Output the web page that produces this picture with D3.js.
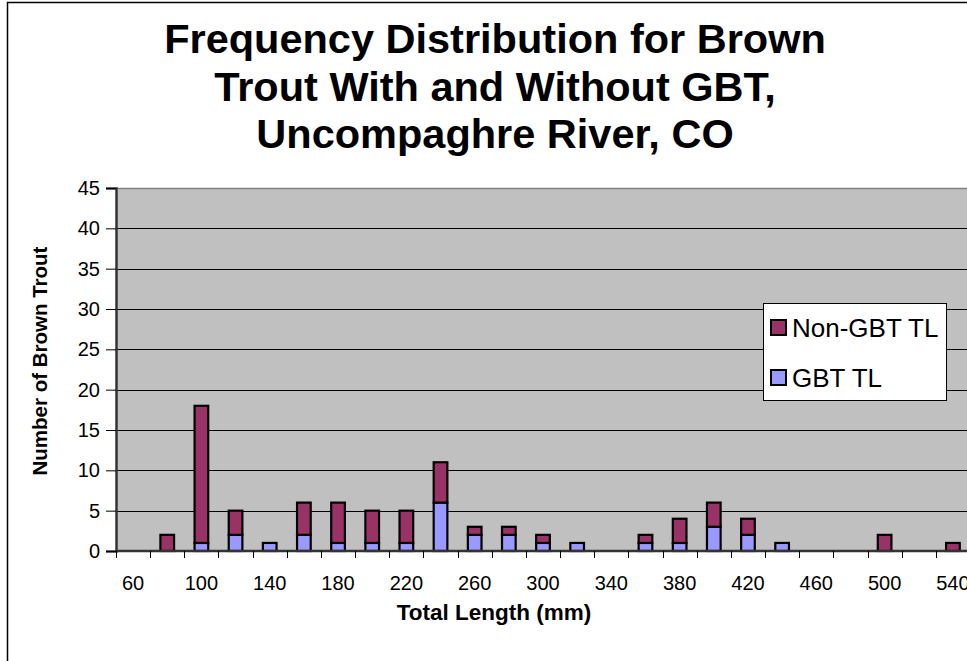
<!DOCTYPE html>
<html>
<head>
<meta charset="utf-8">
<script src="https://cdn.jsdelivr.net/npm/d3@7"></script>
<style>
  html, body { margin: 0; padding: 0; background: #fff; }
  svg { display: block; font-family: "Liberation Sans", Arial, sans-serif; }
</style>
</head>
<body>
<svg id="chart" width="967" height="661"></svg>
<script>
// ---- Data ----
const categories = [60, 80, 100, 120, 140, 160, 180, 200, 220, 240, 260, 280, 300,
                    320, 340, 360, 380, 400, 420, 440, 460, 480, 500, 520, 540];
const gbtTL    = [0, 0, 1, 2, 1, 2, 1, 1, 1, 6, 2, 2, 1, 1, 0, 1, 1, 3, 2, 1, 0, 0, 0, 0, 0];
const nonGbtTL = [0, 2, 17, 3, 0, 4, 5, 4, 4, 5, 1, 1, 1, 0, 0, 1, 3, 3, 2, 0, 0, 0, 2, 0, 1];
const seriesNames = ["GBT TL", "Non-GBT TL"];
const yTicks = [0, 5, 10, 15, 20, 25, 30, 35, 40, 45];
const xTickLabels = [60, 100, 140, 180, 220, 260, 300, 340, 380, 420, 460, 500, 540];
const titleLines = ["Frequency Distribution for Brown", "Trout With and Without GBT,", "Uncompaghre River, CO"];

const colors = { "GBT TL": "#9999FF", "Non-GBT TL": "#993366" };

const svg = d3.select("#chart");

// outer chart border
svg.append("path").attr("d", "M7.5,661 L7.5,2.5 L967,2.5")
  .attr("fill", "none").attr("stroke", "#000").attr("stroke-width", 1.5);

// layout
const plotLeft = 116, plotRight = 970, plotTop = 188, plotBottom = 551;

const x = d3.scaleBand().domain(categories).range([plotLeft, plotRight]).padding(0);
const y = d3.scaleLinear().domain([0, 45]).range([plotBottom, plotTop]);

// title
const title = svg.append("text").attr("text-anchor", "middle")
  .attr("font-size", 41.5).attr("font-weight", "bold").attr("fill", "#000");
titleLines.forEach((t, i) => {
  title.append("tspan").attr("x", 495).attr("y", 53 + i * 47.5).text(t);
});

// plot background
svg.append("rect").attr("x", plotLeft).attr("y", plotTop)
  .attr("width", plotRight - plotLeft).attr("height", plotBottom - plotTop)
  .attr("fill", "#C0C0C0");

// gridlines
svg.append("g").selectAll("line").data(yTicks.filter(d => d > 0 && d < 45)).join("line")
  .attr("x1", plotLeft).attr("x2", plotRight)
  .attr("y1", d => Math.round(y(d)) + 0.5).attr("y2", d => Math.round(y(d)) + 0.5)
  .attr("stroke", "#000").attr("stroke-width", 1.2);
svg.append("line").attr("x1", plotLeft).attr("x2", plotRight)
  .attr("y1", plotTop + 0.5).attr("y2", plotTop + 0.5)
  .attr("stroke", "#808080").attr("stroke-width", 1.5);

// stacked bars
const rows = categories.map((c, i) => ({ cat: c, "GBT TL": gbtTL[i], "Non-GBT TL": nonGbtTL[i] }));
const stacked = d3.stack().keys(seriesNames)(rows);
const bw = x.bandwidth() * 0.4;
const off = (x.bandwidth() - bw) / 2;

svg.append("g").selectAll("g").data(stacked).join("g")
  .attr("fill", d => colors[d.key])
  .selectAll("rect").data(d => d.filter(s => s[1] - s[0] > 0)).join("rect")
  .attr("x", d => x(d.data.cat) + off)
  .attr("y", d => y(d[1]))
  .attr("width", bw)
  .attr("height", d => y(d[0]) - y(d[1]))
  .attr("stroke", "#000").attr("stroke-width", 2.2);

// y axis
const yAxis = d3.axisLeft(y).tickValues(yTicks).tickSize(10).tickPadding(6);
const gy = svg.append("g").attr("transform", `translate(${plotLeft},0)`).call(yAxis);
gy.select(".domain").attr("stroke", "#333").attr("stroke-width", 2.5);
gy.selectAll(".tick line").attr("stroke", "#000");
gy.selectAll(".tick text").attr("font-size", 20).attr("fill", "#000")
  .attr("font-family", "Liberation Sans, Arial, sans-serif");

// x axis: ticks at category boundaries, labels at every other category
const gx = svg.append("g");
gx.append("line").attr("x1", plotLeft).attr("x2", plotRight)
  .attr("y1", plotBottom).attr("y2", plotBottom)
  .attr("stroke", "#333").attr("stroke-width", 2.5);
const boundaries = categories.map(c => x(c)).concat([plotRight]);
gx.selectAll("line.tk").data(boundaries).join("line").attr("class", "tk")
  .attr("x1", d => Math.round(d) + 0.5).attr("x2", d => Math.round(d) + 0.5)
  .attr("y1", plotBottom).attr("y2", plotBottom + 7)
  .attr("stroke", "#000").attr("stroke-width", 1);
gx.selectAll("text").data(xTickLabels).join("text")
  .attr("x", d => x(d) + x.bandwidth() / 2)
  .attr("y", 590)
  .attr("text-anchor", "middle").attr("font-size", 20).attr("fill", "#000")
  .text(d => d);

// axis titles
svg.append("text").attr("x", 494).attr("y", 620).attr("text-anchor", "middle")
  .attr("font-size", 22.5).attr("font-weight", "bold").text("Total Length (mm)");
svg.append("text").attr("transform", "translate(47,361) rotate(-90)")
  .attr("text-anchor", "middle").attr("font-size", 20.5).attr("font-weight", "bold")
  .text("Number of Brown Trout");

// legend
const lg = svg.append("g");
lg.append("rect").attr("x", 763.5).attr("y", 303.5).attr("width", 183).attr("height", 97)
  .attr("fill", "#fff").attr("stroke", "#000").attr("stroke-width", 1);
const legendItems = ["Non-GBT TL", "GBT TL"];
legendItems.forEach((k, i) => {
  const cy = 328 + i * 50;
  lg.append("rect").attr("x", 771).attr("y", cy - 8).attr("width", 15).attr("height", 15)
    .attr("fill", colors[k]).attr("stroke", "#000").attr("stroke-width", 2);
  lg.append("text").attr("x", 792).attr("y", cy + 9).attr("font-size", 26).attr("fill", "#000").text(k);
});
</script>
</body>
</html>
